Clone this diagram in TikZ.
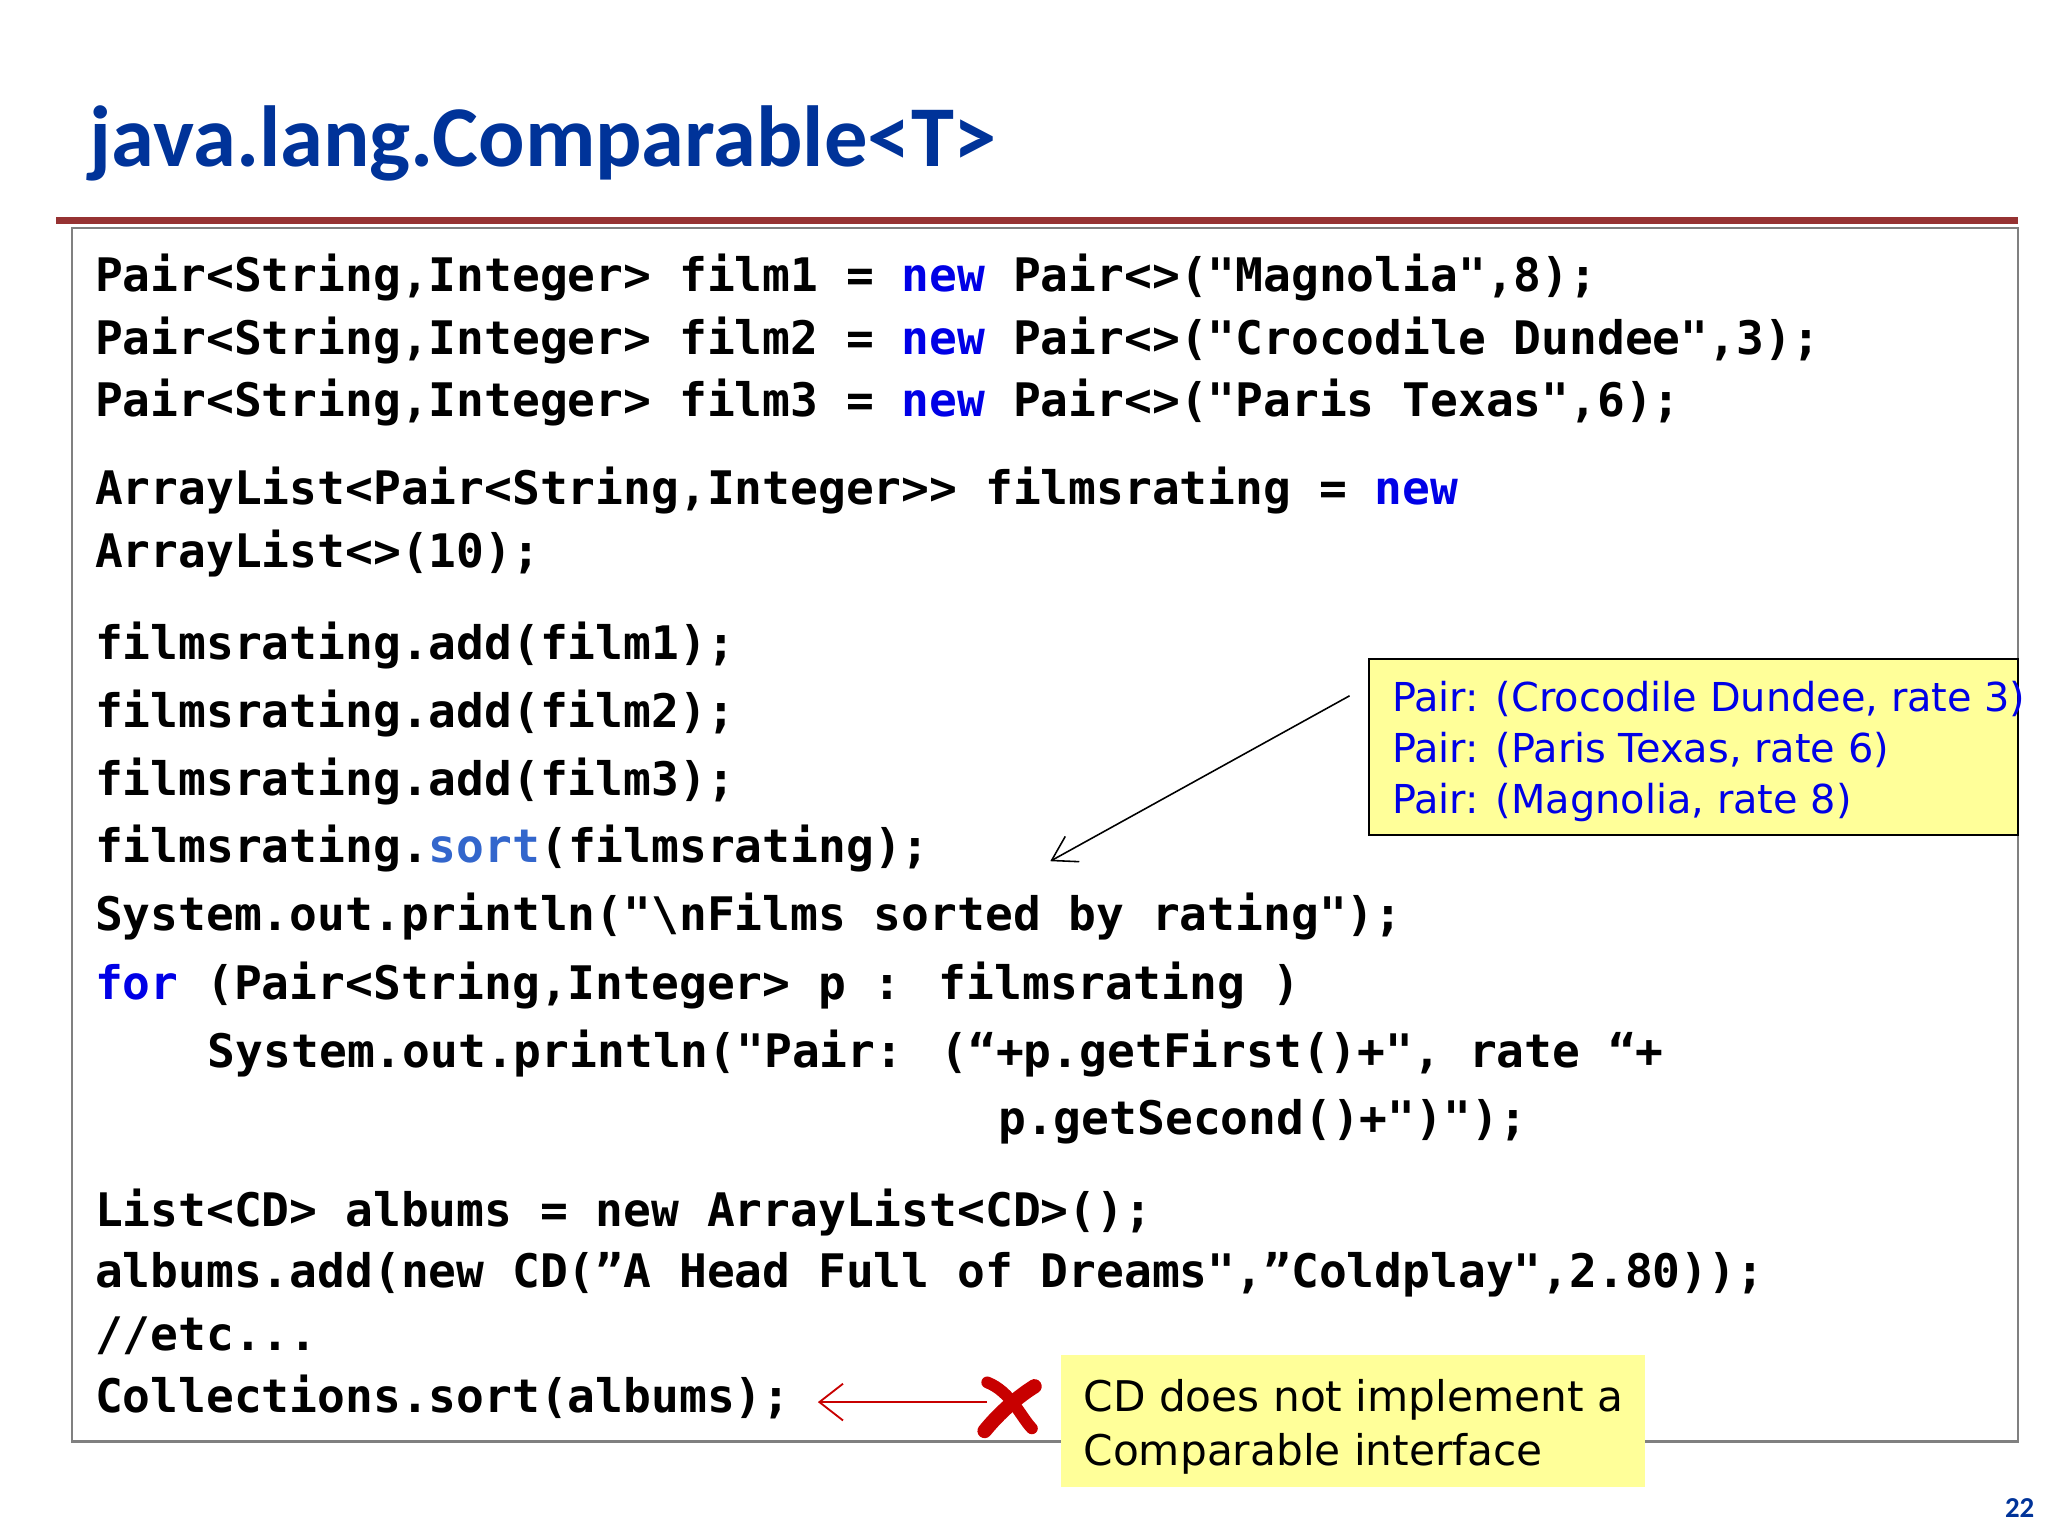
\documentclass[tikz,border=0pt]{standalone}
\usetikzlibrary{arrows.meta}
\usepackage{fontspec}
\setmainfont{Carlito}
\newfontfamily\codefont{DejaVu Sans Mono}
\newfontfamily\notefont{DejaVu Sans}[Scale=0.92]
\definecolor{titleblue}{RGB}{0,51,153}
\definecolor{kw}{RGB}{0,0,230}
\definecolor{kw2}{RGB}{51,102,204}
\definecolor{barred}{RGB}{150,50,50}
\definecolor{noteyel}{RGB}{255,255,153}
\definecolor{xred}{RGB}{200,0,0}
\newcommand{\kwd}[1]{\textcolor{kw}{#1}}
\begin{document}
\begin{tikzpicture}[x=0.5pt,y=-0.5pt,
  code/.style={anchor=base west,inner sep=0pt,font=\codefont\bfseries\fontsize{17.6}{20}\selectfont},
  note/.style={anchor=base west,inner sep=0pt,font=\notefont\fontsize{16.5}{20}\selectfont}]
\useasboundingbox (0,0) rectangle (1560,1170);
\node[anchor=base west,inner sep=0pt,font=\bfseries\fontsize{33}{36}\selectfont,text=titleblue] (title) at (68,127) {java.lang.Comparable<T>};
\fill[barred] (43,165) rectangle (1537,171);
\draw[gray,line width=0.8pt] (55,174) rectangle (1537,1098);
\node[code] (l1) at (72,222) {Pair<String,Integer> film1 = \kwd{new} Pair<>("Magnolia",8);};
\node[code] (l2) at (72,270) {Pair<String,Integer> film2 = \kwd{new} Pair<>("Crocodile Dundee",3);};
\node[code] (l3) at (72,317) {Pair<String,Integer> film3 = \kwd{new} Pair<>("Paris Texas",6);};
\node[code] (l4) at (72,384) {ArrayList<Pair<String,Integer>> filmsrating = \kwd{new}};
\node[code] (l5) at (72,432) {ArrayList<>(10);};
\node[code] (l6) at (72,502) {filmsrating.add(film1);};
\node[code] (l7) at (72,554) {filmsrating.add(film2);};
\node[code] (l8) at (72,606) {filmsrating.add(film3);};
\node[code] (l9) at (72,657) {filmsrating.\textcolor{kw2}{sort}(filmsrating);};
\node[code] (l10) at (72,709) {System.out.println("\textbackslash nFilms sorted by rating");};
\node[code] (l11) at (72,761) {\kwd{for} (Pair<String,Integer> p : filmsrating )};
\node[code] (l12) at (158,813) {System.out.println("Pair: (“+p.getFirst()+", rate “+};
\node[code] (l13) at (760,864) {p.getSecond()+")");};
\node[code] (l14) at (72,934) {List<CD> albums = new ArrayList<CD>();};
\node[code] (l15) at (72,981) {albums.add(new CD(”A Head Full of Dreams",”Coldplay",2.80));};
\node[code] (l16) at (72,1029) {//etc...};
\node[code] (l17) at (72,1076) {Collections.sort(albums);};
% note 1
\draw[black,fill=noteyel,line width=0.6pt] (1043,502) rectangle (1537,636);
\node[note,text=kw] (n1) at (1060,542) {Pair: (Crocodile Dundee, rate 3)};
\node[note,text=kw] (n2) at (1060,581) {Pair: (Paris Texas, rate 6)};
\node[note,text=kw] (n3) at (1060,620) {Pair: (Magnolia, rate 8)};
\coordinate (a1) at (1028,530);
\coordinate (a2) at (800,656);
\draw[-{Straight Barb[length=9pt,width=11pt]},line width=0.6pt] (a1) -- (a2);
% note 2
\fill[noteyel] (808,1032) rectangle (1253,1133);
\node[note,font=\notefont\fontsize{17.5}{20}\selectfont] (m1) at (825,1075) {CD does not implement a};
\node[note,font=\notefont\fontsize{17.5}{20}\selectfont] (m2) at (825,1116) {Comparable interface};
\coordinate (b1) at (752,1068);
\coordinate (b2) at (623,1068);
\draw[xred,-{Straight Barb[length=9pt,width=14pt]},line width=0.7pt] (b1) -- (b2);
% cross
\draw[xred,line width=4.5pt,line cap=round] (752,1053) .. controls (770,1060) and (778,1080) .. (786,1088);
\draw[xred,line width=5.5pt,line cap=round] (788,1056) .. controls (772,1066) and (758,1080) .. (750,1090);
\node[anchor=base east,inner sep=0pt,font=\bfseries\fontsize{11}{12}\selectfont,text=titleblue] (pg) at (1550,1156) {22};
\end{tikzpicture}
\end{document}
